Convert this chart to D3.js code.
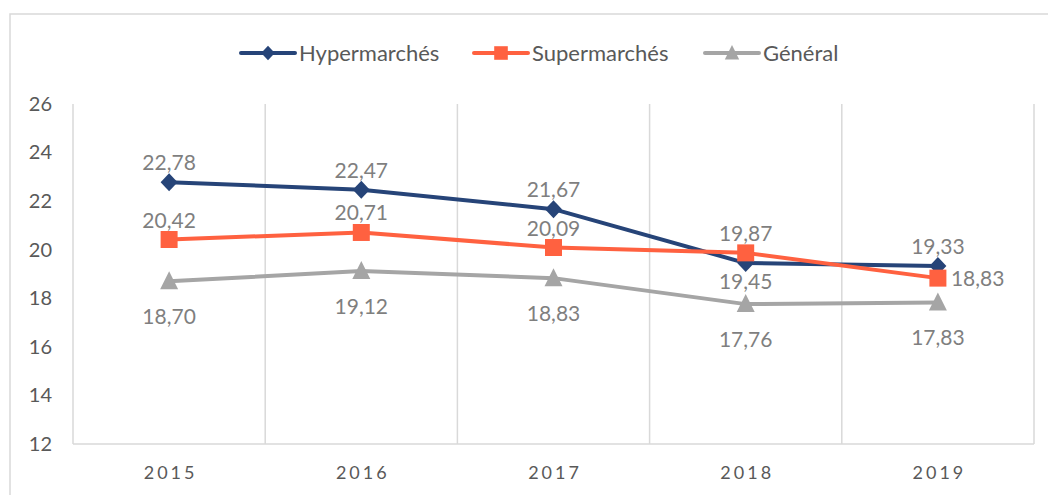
<!DOCTYPE html>
<html>
<head>
<meta charset="utf-8">
<script src="https://cdnjs.cloudflare.com/ajax/libs/d3/7.8.5/d3.min.js"></script>
<style>
  body { margin: 0; background: #fff; }
  text { font-family: Lato, "Open Sans", sans-serif; }
</style>
</head>
<body>
<script>
const years = ["2015", "2016", "2017", "2018", "2019"];
const hyper = [22.78, 22.47, 21.67, 19.45, 19.33];
const superm = [20.42, 20.71, 20.09, 19.87, 18.83];
const general = [18.70, 19.12, 18.83, 17.76, 17.83];
const yTicks = [12, 14, 16, 18, 20, 22, 24, 26];

const series = [
    {name: "Hypermarchés", values: hyper, color: "#264478", marker: "diamond", labels: ["above", "above", "above", "below", "above"]},
    {name: "Supermarchés", values: superm, color: "#ff6140", marker: "square", labels: ["above", "above", "above", "above", "right"]},
    {name: "Général", values: general, color: "#a5a5a5", marker: "triangle", labels: ["under", "under", "under", "under", "under"]}
];

const W = 1048, H = 495;
const plotLeft = 73, plotRight = 1034, plotTop = 104, plotBottom = 444;

const svg = d3.select("body").append("svg")
    .attr("width", W)
    .attr("height", H);

// chart frame
svg.append("rect")
    .attr("x", 10).attr("y", 14)
    .attr("width", W - 4).attr("height", H)
    .attr("fill", "none")
    .attr("stroke", "#d9d9d9")
    .attr("stroke-width", 1.5);

const x = d3.scaleBand().domain(years).range([plotLeft, plotRight]);
const y = d3.scaleLinear().domain([12, 26]).range([plotBottom, plotTop]);

// vertical gridlines at category boundaries
const bounds = years.map(d => x(d)).concat([plotRight]);
svg.selectAll(".vgrid")
    .data(bounds).enter()
    .append("line")
    .attr("x1", d => d).attr("x2", d => d)
    .attr("y1", plotTop).attr("y2", plotBottom)
    .attr("stroke", "#d9d9d9")
    .attr("stroke-width", 1.5);

svg.append("line")
    .attr("x1", plotLeft).attr("x2", plotRight)
    .attr("y1", plotBottom).attr("y2", plotBottom)
    .attr("stroke", "#d9d9d9")
    .attr("stroke-width", 1.5);

// y axis labels
const yAxis = svg.append("g")
    .attr("transform", "translate(" + (plotLeft - 21) + ",0)")
    .call(d3.axisLeft(y).tickValues(yTicks).tickSize(0).tickPadding(0));
yAxis.select(".domain").remove();
yAxis.selectAll("text")
    .attr("fill", "#595959")
    .style("font-size", "20px");

// x axis labels
const xAxis = svg.append("g")
    .attr("transform", "translate(0," + plotBottom + ")")
    .call(d3.axisBottom(x).tickSize(0).tickPadding(22));
xAxis.select(".domain").remove();
xAxis.selectAll("text")
    .attr("fill", "#595959")
    .attr("dx", "1.5px")
    .style("font-size", "18px")
    .style("letter-spacing", "3px");

const cx = d => x(d) + x.bandwidth() / 2;

const line = d3.line()
    .x((d, i) => cx(years[i]))
    .y(d => y(d));

function markerPath(type) {
    if (type === "diamond") return "M0,-9L8.5,0L0,9L-8.5,0Z";
    if (type === "square") return "M-8.5,-8.5H8.5V8.5H-8.5Z";
    return "M0,-10L9,8H-9Z";
}

series.forEach(s => {
    svg.append("path")
        .datum(s.values)
        .attr("d", line)
        .attr("fill", "none")
        .attr("stroke", s.color)
        .attr("stroke-width", 4)
        .attr("stroke-linejoin", "round");

    svg.selectAll(null)
        .data(s.values).enter()
        .append("path")
        .attr("d", markerPath(s.marker))
        .attr("transform", (d, i) => "translate(" + cx(years[i]) + "," + y(d) + ")")
        .attr("fill", s.color);
});

// data labels
series.forEach(s => {
    svg.selectAll(null)
        .data(s.values).enter()
        .append("text")
        .text(d => d3.format(".2f")(d).replace(".", ","))
        .attr("x", (d, i) => s.labels[i] === "right" ? cx(years[i]) + 13 : cx(years[i]))
        .attr("y", (d, i) => {
            const p = s.labels[i];
            if (p === "above") return y(d) - 12;
            if (p === "below") return y(d) + 26;
            if (p === "under") return y(d) + 43;
            return y(d) + 8;
        })
        .attr("text-anchor", (d, i) => s.labels[i] === "right" ? "start" : "middle")
        .attr("fill", "#7f7f7f")
        .style("font-size", "21px");
});

// legend
const legendX = [241, 474, 705];
const legend = svg.selectAll(".legend")
    .data(series).enter()
    .append("g")
    .attr("transform", (d, i) => "translate(" + legendX[i] + ",53)");
legend.append("line")
    .attr("x1", 0).attr("x2", 54)
    .attr("stroke", d => d.color)
    .attr("stroke-width", 4)
    .attr("stroke-linecap", "round");
legend.append("path")
    .attr("d", d => markerPath(d.marker))
    .attr("transform", "translate(27,0) scale(0.8)")
    .attr("fill", d => d.color);
legend.append("text")
    .attr("x", 58).attr("y", 7.5)
    .text(d => d.name)
    .attr("fill", "#595959")
    .style("font-size", "22px");
</script>
</body>
</html>
